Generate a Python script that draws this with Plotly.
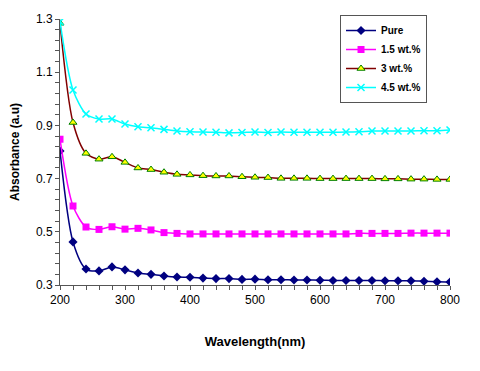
import plotly.graph_objects as go

wavelength = list(range(200, 801, 20))

pure = [0.804, 0.462, 0.360, 0.353, 0.368, 0.357, 0.345, 0.340, 0.334, 0.330,
        0.329, 0.326, 0.324, 0.324, 0.321, 0.322, 0.320, 0.320, 0.319, 0.319,
        0.318, 0.317, 0.317, 0.317, 0.317, 0.316, 0.316, 0.316, 0.314, 0.312, 0.311]
wt15 = [0.848, 0.597, 0.518, 0.509, 0.519, 0.510, 0.513, 0.507, 0.497, 0.494,
        0.492, 0.492, 0.492, 0.492, 0.492, 0.492, 0.492, 0.492, 0.492, 0.492,
        0.492, 0.492, 0.492, 0.494, 0.494, 0.494, 0.494, 0.495, 0.495, 0.495, 0.495]
wt3 = [1.284, 0.911, 0.795, 0.773, 0.782, 0.761, 0.740, 0.734, 0.724, 0.716,
       0.714, 0.711, 0.710, 0.710, 0.707, 0.705, 0.704, 0.701, 0.701, 0.701,
       0.700, 0.700, 0.700, 0.700, 0.700, 0.699, 0.699, 0.698, 0.698, 0.697, 0.697]
wt45 = [1.290, 1.033, 0.943, 0.924, 0.924, 0.905, 0.895, 0.891, 0.885, 0.879,
        0.876, 0.875, 0.874, 0.872, 0.873, 0.875, 0.873, 0.875, 0.874, 0.874,
        0.874, 0.874, 0.875, 0.876, 0.879, 0.879, 0.879, 0.879, 0.880, 0.880, 0.883]

series = [
    ("Pure", pure, "#000080", dict(symbol="diamond", size=7, color="#000080")),
    ("1.5 wt.%", wt15, "#FF00FF", dict(symbol="square", size=7, color="#FF00FF")),
    ("3 wt.%", wt3, "#800000", dict(symbol="triangle-up", size=7, color="#FFFF00",
                                    line=dict(color="#008000", width=1))),
    ("4.5 wt.%", wt45, "#00FFFF", dict(symbol="x-thin", size=7, color="#00FFFF",
                                       line=dict(color="#00FFFF", width=1.5))),
]

fig = go.Figure()
for name, vals, col, mk in series:
    fig.add_trace(go.Scatter(
        x=wavelength, y=vals, name="<b>" + name + "</b>", mode="lines+markers",
        line=dict(color=col, width=1.5, shape="spline", smoothing=0.8),
        marker=mk,
    ))

axis_common = dict(
    ticks="outside", ticklen=4, tickcolor="#555555",
    showline=True, linecolor="#555555", linewidth=1, showgrid=False, zeroline=False,
    tickfont=dict(size=12), automargin=False,
    tickprefix="<b>", ticksuffix="</b>",
)

fig.update_layout(
    width=480, height=371,
    margin=dict(l=60, r=30, t=19, b=86),
    paper_bgcolor="white", plot_bgcolor="white",
    font=dict(family="Arial, Liberation Sans, sans-serif", color="black"),
    showlegend=True,
    legend=dict(
        x=0.718, y=1.015, xanchor="left", yanchor="top",
        bordercolor="#555555", borderwidth=1, bgcolor="white",
        font=dict(size=10, family="Arial, Liberation Sans, sans-serif"),
        tracegroupgap=0, itemwidth=30,
    ),
    xaxis=dict(
        range=[200, 800], tickvals=[200, 300, 400, 500, 600, 700, 800],
        minor=dict(dtick=20, tick0=200, ticks="outside", ticklen=4, tickcolor="#555555"),
        title=dict(text="<b>Wavelength(nm)</b>", font=dict(size=13), standoff=30),
        **axis_common,
    ),
    yaxis=dict(
        range=[0.3, 1.3], tickvals=[0.3, 0.5, 0.7, 0.9, 1.1, 1.3],
        tickformat=".1f",
        minor=dict(dtick=0.04, tick0=0.3, ticks="outside", ticklen=4, tickcolor="#555555"),
        title=dict(text="<b>Absorbance (a.u)</b>", font=dict(size=12), standoff=13),
        **axis_common,
    ),
)

fig.write_html("out.html", config={"displayModeBar": False},
               post_script="document.body.style.margin='0px';")
